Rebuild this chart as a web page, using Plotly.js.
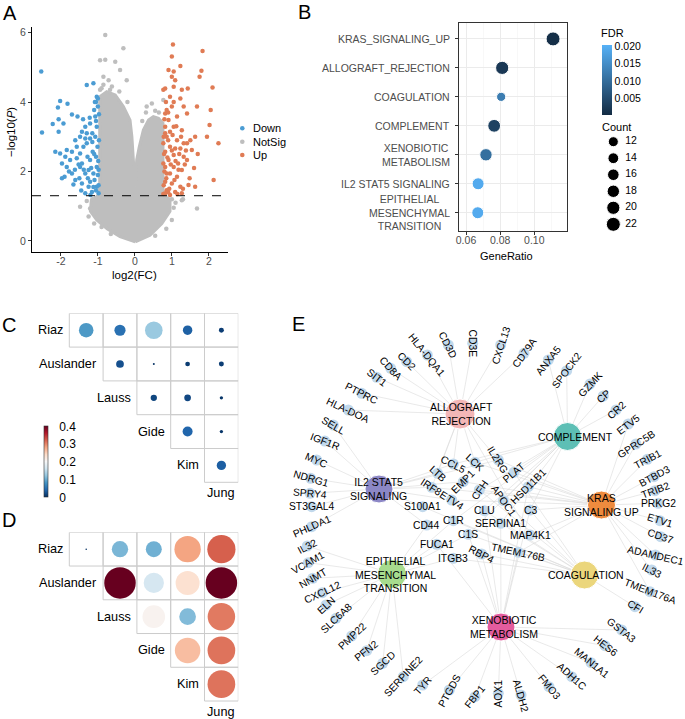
<!DOCTYPE html>
<html><head><meta charset="utf-8">
<script src="https://cdn.plot.ly/plotly-3.0.1.min.js"></script>
<style>html,body{margin:0;padding:0;background:#fff}#chart{width:685px;height:719px}</style>
</head><body><div id="chart"></div>
<script>
// ================= DATA =================
// Panel A: volcano (log2FC, -log10 P)
const volcanoDown=[[-2.53,4.88],[-2.51,3.12],[-2.02,4.03],[-2.08,3.84],[-1.82,3.95],[-2.22,3.37],[-2.06,3.50],[-1.93,3.38],[-1.70,3.64],[-1.55,3.58],[-1.30,4.49],[-1.12,4.54],[-1.03,4.15],[-2.06,3.14],[-2.15,2.57],[-2.02,2.52],[-1.88,2.42],[-1.75,2.33],[-1.97,2.23],[-1.84,2.13],[-1.97,1.80],[-1.70,1.94],[-1.61,1.75],[-1.48,2.52],[-1.48,3.00],[-1.34,2.95],[-1.21,2.95],[-1.39,2.71],[-1.28,2.42],[-1.48,2.13],[-1.34,1.94],[-1.43,1.65],[-1.25,1.56],[-1.16,1.41],[-1.09,1.75],[-1.03,2.13],[-1.05,2.42],[-1.01,2.71],[-1.07,3.00],[-1.03,3.29],[-1.07,3.58],[-1.00,3.87],[-1.21,2.33],[-1.14,2.57],[-1.57,2.38],[-1.61,2.90],[-1.34,3.29],[-1.21,3.38],[-1.10,3.77],[-1.05,4.00],[-1.25,2.04],[-1.12,1.94],[-1.03,1.56],[-0.98,1.37],[-1.34,1.37],[-1.21,1.70],[-1.43,2.23],[-1.30,2.81],[-1.84,2.62],[-1.70,2.57],[-1.57,2.71],[-1.43,3.14],[-0.97,2.90],[-0.99,2.30],[-1.00,1.90],[-0.98,1.60],[-1.15,3.10],[-1.18,2.10],[-1.10,2.50],[-1.05,3.45],[-0.97,3.65],[-1.12,1.55],[-1.27,1.80],[-1.38,2.05],[-1.52,2.20],[-1.62,2.05],[-1.78,2.00],[-1.90,1.85],[-1.66,1.62],[-1.50,1.80],[-1.45,1.45],[-1.20,1.32],[-1.05,1.45],[-0.98,2.05],[-1.15,2.85],[-1.22,3.55],[-1.30,3.10],[-1.40,3.50],[-1.00,4.10],[-1.08,4.00]];
const volcanoUp=[[1.03,5.66],[1.83,5.47],[1.00,5.31],[0.91,4.92],[1.23,5.04],[1.05,4.88],[1.80,4.90],[1.75,4.73],[1.00,4.73],[1.09,4.63],[0.82,4.39],[0.77,4.35],[1.05,4.44],[1.27,4.35],[1.43,4.39],[2.10,4.42],[1.23,4.10],[0.95,4.15],[1.68,3.87],[2.05,3.77],[0.86,3.77],[1.00,3.87],[1.32,3.87],[0.82,3.67],[1.14,3.58],[1.41,3.67],[0.91,3.48],[2.02,3.34],[0.82,3.29],[1.05,3.29],[1.27,3.19],[1.63,3.00],[1.95,3.00],[2.26,2.81],[0.86,3.00],[1.14,2.90],[1.41,2.81],[0.95,2.71],[1.23,2.66],[1.54,2.62],[0.82,2.57],[1.05,2.47],[1.32,2.42],[0.91,2.33],[1.17,2.23],[1.41,2.33],[0.82,2.13],[1.05,2.13],[1.27,2.04],[0.86,1.94],[1.14,1.85],[1.48,1.80],[2.13,1.75],[0.82,1.70],[1.00,1.65],[1.23,1.56],[1.45,1.61],[1.63,1.56],[0.86,1.46],[1.09,1.41],[0.82,1.37],[0.95,1.32],[1.27,1.37],[0.77,2.23],[0.77,2.81],[0.82,3.10],[0.95,3.14],[1.09,2.66],[0.95,1.94],[1.32,2.81],[0.78,1.60],[0.80,2.00],[0.79,2.50],[0.78,3.00],[0.80,3.50],[0.85,1.80],[0.88,2.40],[0.90,2.90],[0.93,1.50],[0.97,2.20],[1.00,2.60],[1.02,3.05],[1.07,1.75],[1.10,2.30],[1.12,3.30],[1.18,2.05],[1.20,2.50],[1.25,3.00],[1.35,2.20],[1.38,2.60],[1.30,1.50],[1.60,2.10],[1.70,2.50],[1.50,2.90],[0.84,4.00],[0.90,3.70],[1.05,4.00],[0.77,1.35],[0.90,1.40],[1.15,1.35]];
const volcanoNotSig=[[-0.80,5.93],[-0.31,5.55],[-0.94,5.20],[-0.80,5.22],[-0.53,5.16],[-0.40,4.92],[-0.85,4.73],[-0.71,4.63],[-0.22,4.63],[-0.94,4.35],[-0.67,4.35],[0.77,4.06],[0.32,3.87],[0.46,3.96],[-1.48,0.98],[-1.21,0.93],[1.68,0.93],[1.27,1.17],[-0.90,4.40],[-0.62,4.45],[-0.42,4.30],[-0.20,4.00],[-0.85,4.50],[0.30,3.70],[0.55,3.75],[0.65,3.70],[0.20,3.45],[-1.30,1.15],[-1.25,0.70],[-1.10,0.50],[1.00,0.60],[0.85,0.35],[-0.65,0.20],[0.55,0.15],[1.00,1.20],[1.10,1.10],[1.05,0.95],[-0.90,0.40],[1.30,1.20],[-1.15,1.20]];
// outline of the dense NotSig cloud
const notSigCloud=[[0.01,-0.03],[-0.4,0.12],[-0.75,0.35],[-1.03,0.6],[-1.2,0.85],[-1.18,1.15],[-1.0,1.3],[-0.95,1.5],[-0.95,4.15],[-0.76,4.3],[-0.53,4.2],[-0.31,3.87],[-0.13,3.48],[-0.08,3.0],[-0.04,2.33],[0.01,1.56],[0.05,2.33],[0.12,2.71],[0.23,3.19],[0.37,3.48],[0.50,3.58],[0.64,3.53],[0.76,3.39],[0.76,1.3],[0.95,1.2],[0.95,0.85],[0.73,0.5],[0.41,0.16],[0.01,-0.03]];
const pThreshold=1.3;
const volcanoXTicks=[-2,-1,0,1,2];
const volcanoYTicks=[0,2,4,6];
const volcanoGroups=['Down','NotSig','Up'];

// Panel B: enrichment dot plot
const pathwayLabels=['KRAS_SIGNALING_UP','ALLOGRAFT_REJECTION','COAGULATION','COMPLEMENT','XENOBIOTIC<br>METABOLISM','IL2 STAT5 SIGNALING','EPITHELIAL<br>MESENCHYMAL<br>TRANSITION'];
const geneRatio=[0.111,0.0812,0.0806,0.0765,0.0717,0.0671,0.0669];
const geneCount=[22,20,10,19,18,17,17];
const fdr=[0.0006,0.002,0.0125,0.0035,0.0105,0.0195,0.0195];
const ratioTicks=[0.06,0.08,0.10];
const countLegend=[12,14,16,18,20,22];
const fdrTicks=[0.005,0.010,0.015,0.020];

// Panels C, D: correlation upper triangles (row i vs later cohorts)
const cohorts=['Riaz','Auslander','Lauss','Gide','Kim','Jung'];
const corrC=[[0.085,0.050,0.125,0.036,0.010],[0.024,0.0016,0.009,0.010],[0.016,0.018,0.0045],[0.040,0.0045],[0.035]];
const corrD=[[0.001,0.108,0.103,0.28,0.32],[0.40,0.165,0.232,0.40],[0.207,0.112,0.305],[0.262,0.309],[0.309]];
const corrTicks=[0,0.1,0.2,0.3,0.4];

// Panel E: network
const hubNames=['ALLOGRAFT<br>REJECTION','COMPLEMENT','IL2 STAT5<br>SIGNALING','KRAS<br>SIGNALING UP','EPITHELIAL<br>MESENCHYMAL<br>TRANSITION','COAGULATION','XENOBIOTIC<br>METABOLISM'];
const hubX=[460,567.5,379,601.5,392,584.5,501];
const hubY=[414,436.5,489,505,574,575,627];
const hubMembers=[
 ['CD3D','CD3E','HLA-DQA1','CD2','CD8A','SIT1','PTPRC','HLA-DOA','CXCL13','CD79A','CCL5','LCK','LTB','IL2RG','IRF8','MAP4K1'],
 ['ANXA5','SPOCK2','GZMK','CP','CR2','CCL5','LCK','PLAT','CFH','APOC1','CLU','C3','C1R','C1S','SERPINA1'],
 ['SELL','IGF1R','MYC','NDRG1','SPRY4','ST3GAL4','PHLDA1','LTB','IL2RG','IRF8','ETV4','EMP1','S100A1','CD44','CCL5'],
 ['ETV5','GPRC5B','TRIB1','BTBD3','TRIB2','PRKG2','ETV1','CD37','ADAMDEC1','IL33','TMEM176A','TMEM176B','ETV4','EMP1','IRF8','HSD11B1','PLAT','MAP4K1','CFH','LCK','C3','IL2RG'],
 ['IL32','VCAM1','NNMT','CXCL12','ELN','SLC6A8','PMP22','PFN2','SGCD','SERPINE2','FUCA1','ITGB3','CD44','C1R','C1S'],
 ['CFI','PLAT','CFH','APOC1','CLU','C3','C1R','C1S','SERPINA1','ITGB3','RBP4','S100A1','TMEM176B'],
 ['GSTA3','HES6','MAN1A1','ADH1C','FMO3','ALDH2','AOX1','FBP1','PTGDS','TYR','C1S','SERPINA1','RBP4','HSD11B1','FUCA1','C3','CLU','TMEM176B']
];
const geneNames=['CD3D','CD3E','HLA-DQA1','CD2','CD8A','SIT1','PTPRC','HLA-DOA','SELL','IGF1R','MYC','NDRG1','SPRY4','ST3GAL4','PHLDA1','IL32','VCAM1','NNMT','CXCL12','ELN','SLC6A8','PMP22','PFN2','SGCD','SERPINE2','TYR','PTGDS','FBP1','AOX1','ALDH2','FMO3','ADH1C','MAN1A1','HES6','GSTA3','CFI','TMEM176A','IL33','ADAMDEC1','CD37','ETV1','PRKG2','TRIB2','BTBD3','TRIB1','GPRC5B','ETV5','CR2','CP','GZMK','SPOCK2','ANXA5','CD79A','CXCL13','CCL5','LCK','LTB','IL2RG','PLAT','EMP1','IRF8','ETV4','CFH','APOC1','HSD11B1','S100A1','CLU','C3','CD44','C1R','SERPINA1','MAP4K1','C1S','FUCA1','TMEM176B','RBP4','ITGB3'];
const geneX=[448.3,472.7,427.3,406.7,390.7,376.7,361.7,348.3,333.3,324.7,316.7,310.7,310,311.7,311.7,307.3,308.3,312.7,322.3,326,336,351.7,366.7,382.7,403.3,422.7,449.3,475,498.3,521,549,571.7,591,605,621.7,635,650,651.7,655.3,660.7,660,658.3,655,654,647.3,636,628.3,616,603.3,590,566.7,548.3,524,500.7,453.3,475,437.7,498.3,514,463.3,431.7,451.7,479.3,503.3,528.3,422.7,484.3,530,426.7,453.3,500.7,530,468.3,436.7,518.3,481.7,453.3];
const geneY=[345,343.3,355,361.7,368.3,377.3,393.3,410,425,441,460,478.3,493.3,506.7,526.7,546,562.7,578.3,592.7,605,618.3,636,650.7,663.3,676.7,685,690,696.7,693.3,695,686.7,676.7,662.7,645.7,630,606.7,591.7,570,555,536.7,520.7,503.3,490.7,476.7,459.3,444,424,410,396,384,370.7,360,353.3,345,464,462.3,473.3,460,472.3,481.7,487.3,500,490,500.7,486.7,506.7,510.7,510,525,520.7,523.3,535,534.3,544.3,552.3,554,558.3];

// ================= STYLE =================
const W=685,H=719;
const px=x=>x/W, py=y=>1-y/H;
const FONT='Liberation Sans, Arial, Helvetica, sans-serif';
const colDown='#4B9CD3', colUp='#E07B54', colNS='#BEBEBE';
const rdbu=[[0,'#053061'],[0.1,'#2166AC'],[0.2,'#4393C3'],[0.3,'#92C5DE'],[0.4,'#D1E5F0'],[0.5,'#F7F7F7'],[0.6,'#FDDBC7'],[0.7,'#F4A582'],[0.8,'#D6604D'],[0.9,'#B2182B'],[1,'#67001F']];
const hubColors=['#F3B7B7','#5DBFB5','#8C87C6','#EE8B3E','#A7DC8E','#EBD67C','#E35C9E'];
const hubSize=[30,28,28,28,29,28,28];
const hubLabelDx=[1,8,-1,0,3,1,3];
const geneAngle=[63,90,51,45,47,37,27,25,30,21,23,16,5,0,-24,-28,-29,-30,-25,-42,-43,-43,-38,-43,-47,-48,-61,-51,-90,74,51,42,39,38,38,31,21,27,13,19,17,0,-21,-28,-28,-33,-38,-42,-41,-47,-53,-52,-54,-72,27,42,42,58,-40,-45,33,33,-55,55,-45,0,0,0,0,0,0,0,0,0,12,27,0];
const countSize=c=>10+(c-12)*0.4;
const DMAX=31.5;
const corrSize=v=>Math.max(1.5,DMAX*Math.sqrt(Math.abs(v)/0.4));

const traces=[], annotations=[], shapes=[];
const ptext=(t,x,y,o)=>Object.assign({xref:'paper',yref:'paper',x:px(x),y:py(y),xanchor:'center',yanchor:'middle',text:t,showarrow:false,font:{size:11,color:'#000'}},o||{});

// ---------- Panel A ----------
const xs=a=>a.map(p=>p[0]), ys=a=>a.map(p=>p[1]);
traces.push({type:'scatter',mode:'lines',x:xs(notSigCloud),y:ys(notSigCloud),fill:'toself',fillcolor:colNS,line:{color:colNS,width:3},hoverinfo:'skip',xaxis:'x',yaxis:'y'});
traces.push({type:'scatter',mode:'markers',x:xs(volcanoNotSig),y:ys(volcanoNotSig),marker:{color:colNS,size:4.5,opacity:1},xaxis:'x',yaxis:'y'});
traces.push({type:'scatter',mode:'markers',x:xs(volcanoDown),y:ys(volcanoDown),marker:{color:colDown,size:4.5,opacity:1},xaxis:'x',yaxis:'y'});
traces.push({type:'scatter',mode:'markers',x:xs(volcanoUp),y:ys(volcanoUp),marker:{color:colUp,size:4.5,opacity:1},xaxis:'x',yaxis:'y'});
shapes.push({type:'line',xref:'x domain',yref:'y',x0:0,x1:1,y0:pThreshold,y1:pThreshold,line:{color:'#000',width:1,dash:'dash'}});
const legCols=[colDown,colNS,colUp], legY=[128.3,141.7,155];
volcanoGroups.forEach((g,i)=>{
  shapes.push({type:'circle',xref:'paper',yref:'paper',x0:px(240),x1:px(244.6),y0:py(legY[i]+2.3),y1:py(legY[i]-2.3),fillcolor:legCols[i],line:{width:0}});
  annotations.push(ptext(g,251,legY[i],{xanchor:'left'}));
});
annotations.push(ptext('log2(FC)',134.7,275,{font:{size:11.5,color:'#000'}}));
annotations.push(ptext('−log10(<i>P</i>)',11,132,{textangle:-90,font:{size:11.5,color:'#000'}}));

// ---------- Panel B ----------
const idx=pathwayLabels.map((_,i)=>i);
traces.push({type:'scatter',mode:'markers',x:geneRatio,y:idx,xaxis:'x2',yaxis:'y2',
  marker:{size:geneCount.map(countSize),opacity:1,color:fdr,cmin:0,cmax:0.0205,colorscale:[[0,'#132B43'],[1,'#56B1F7']],showscale:true,
    colorbar:{x:px(601.7),xanchor:'left',y:py(80),yanchor:'middle',len:70,lenmode:'pixels',thickness:10,outlinewidth:0,
      tickvals:fdrTicks,ticktext:fdrTicks.map(v=>v.toFixed(3)),ticks:'',tickfont:{size:10.5,color:'#000'},xpad:0,ypad:0}}});
pathwayLabels.forEach((t,i)=>annotations.push({xref:'paper',yref:'y2',x:px(452),y:i,xanchor:'right',yanchor:'middle',align:'center',text:t,showarrow:false,font:{size:10.5,color:'#4D4D4D'}}));
annotations.push(ptext('GeneRatio',506.7,256));
annotations.push(ptext('FDR',598.5,33,{xanchor:'left'}));
// count legend
traces.push({type:'scatter',mode:'markers',x:countLegend.map(()=>0),y:countLegend,xaxis:'x3',yaxis:'y3',marker:{color:'#000',opacity:1,size:countLegend.map(countSize)}});
traces.push({type:'scatter',mode:'text',x:countLegend.map(()=>3.2),y:countLegend,text:countLegend.map(String),textposition:'middle right',textfont:{size:10.5,color:'#000'},xaxis:'x3',yaxis:'y3'});
annotations.push(ptext('Count',599.5,127.3,{xanchor:'left'}));

// ---------- Panels C & D ----------
function corrPanel(mat,xa,ya,showScale){
  const x=[],y=[],v=[];
  mat.forEach((row,i)=>row.forEach((val,k)=>{const j=i+1+k;x.push(j);y.push(i);v.push(val);
    shapes.push({type:'rect',xref:xa,yref:ya,x0:j-0.5,x1:j+0.5,y0:i-0.5,y1:i+0.5,line:{color:'#CCCCCC',width:1},layer:'below'});}));
  const tr={type:'scatter',mode:'markers',x:x,y:y,xaxis:xa,yaxis:ya,
    marker:{size:v.map(corrSize),opacity:1,color:v,cmin:0,cmax:0.4,colorscale:rdbu,showscale:showScale,line:{width:0}}};
  if(showScale){tr.marker.colorbar={x:px(44),xanchor:'left',y:py(461.8),yanchor:'middle',len:71,lenmode:'pixels',thickness:4,
    outlinewidth:0.6,outlinecolor:'#333',tickvals:corrTicks,ticktext:corrTicks.map(String),ticks:'outside',ticklen:9,tickcolor:'rgba(0,0,0,0)',
    tickfont:{size:12,color:'#000'},xpad:0,ypad:0};}
  traces.push(tr);
  cohorts.slice(0,5).forEach((c,i)=>annotations.push({xref:xa,yref:ya,x:i+0.5,y:i,xanchor:'right',yanchor:'middle',xshift:-4,text:c,showarrow:false,font:{size:12.7,color:'#000'}}));
  annotations.push({xref:xa,yref:ya,x:5,y:4.83,xanchor:'center',yanchor:'middle',text:cohorts[5],showarrow:false,font:{size:12.7,color:'#000'}});
}
corrPanel(corrC,'x4','y4',true);
corrPanel(corrD,'x5','y5',false);

// ---------- Panel E ----------
const gIdx={}; geneNames.forEach((g,i)=>gIdx[g]=i);
const ex=[],ey=[];
hubMembers.forEach((m,h)=>m.forEach(g=>{const i=gIdx[g];ex.push(hubX[h],geneX[i],null);ey.push(hubY[h],geneY[i],null);}));
traces.push({type:'scatter',mode:'lines',x:ex,y:ey,line:{color:'#DADADA',width:0.6},xaxis:'x6',yaxis:'y6',hoverinfo:'skip'});
traces.push({type:'scatter',mode:'markers',x:geneX,y:geneY,marker:{color:'#C2D9EC',size:11,opacity:1},xaxis:'x6',yaxis:'y6'});
traces.push({type:'scatter',mode:'markers',x:hubX,y:hubY,marker:{color:hubColors,size:hubSize,opacity:1},xaxis:'x6',yaxis:'y6'});
geneNames.forEach((g,i)=>annotations.push({xref:'x6',yref:'y6',x:geneX[i],y:geneY[i],xanchor:'center',yanchor:'middle',text:g,textangle:geneAngle[i],showarrow:false,font:{size:10.3,color:'#000'}}));
hubNames.forEach((t,i)=>annotations.push({xref:'x6',yref:'y6',x:hubX[i]+hubLabelDx[i],y:hubY[i],xanchor:'center',yanchor:'middle',text:t,align:'center',showarrow:false,font:{size:10.5,color:'#000'}}));

// panel letters
[['A',9.5,12.5],['B',304,12],['C',8.5,325],['D',8.5,519.5],['E',298.5,323.5]].forEach(p=>annotations.push(ptext(p[0],p[1],p[2],{font:{size:20,color:'#000'}})));

const hidden=(d,r)=>({domain:d,range:r,visible:false,fixedrange:true});
const layout={
  width:W,height:H,margin:{l:0,r:0,t:0,b:0},paper_bgcolor:'#fff',plot_bgcolor:'rgba(0,0,0,0)',showlegend:false,
  font:{family:FONT,color:'#000'},
  xaxis:{domain:[px(32),px(227.7)],range:[-2.78,2.51],anchor:'y',tickvals:volcanoXTicks,ticktext:volcanoXTicks.map(String),showline:true,linecolor:'#000',linewidth:1,ticks:'outside',ticklen:3,tickcolor:'#333',ticklabelstandoff:-4,tickfont:{size:10.5,color:'#4D4D4D'},showgrid:false,zeroline:false},
  yaxis:{domain:[py(252.3),py(26.7)],range:[-0.33,6.17],anchor:'x',tickvals:volcanoYTicks,ticktext:volcanoYTicks.map(String),showline:true,linecolor:'#000',linewidth:1,ticks:'outside',ticklen:3,tickcolor:'#333',tickfont:{size:10.5,color:'#4D4D4D'},showgrid:false,zeroline:false},
  xaxis2:{domain:[px(459),px(566.7)],range:[0.0559,0.119],anchor:'y2',tickvals:ratioTicks,ticktext:ratioTicks.map(v=>v.toFixed(2)),showline:true,mirror:true,linecolor:'#333',linewidth:1,ticks:'outside',ticklen:3,tickcolor:'#333',ticklabelstandoff:-3,tickfont:{size:10.5,color:'#4D4D4D'},showgrid:true,gridcolor:'#EBEBEB',gridwidth:1,zeroline:false,
    minor:{tickvals:[0.07,0.09,0.11],showgrid:true,gridcolor:'#F3F3F3',gridwidth:0.6,ticks:''}},
  yaxis2:{domain:[py(230.7),py(22.7)],range:[6.62,-0.56],anchor:'x2',tickvals:idx,showticklabels:false,showline:true,mirror:true,linecolor:'#333',linewidth:1,ticks:'outside',ticklen:3,tickcolor:'#333',showgrid:true,gridcolor:'#EBEBEB',gridwidth:1,zeroline:false},
  xaxis3:Object.assign(hidden([px(600),px(650)],[-3.6,9.9]),{anchor:'y3'}),
  yaxis3:Object.assign(hidden([py(232),py(135)],[22.93,11.19]),{anchor:'x3'}),
  xaxis4:Object.assign(hidden([px(35.5),px(238.3)],[-0.5,5.5]),{anchor:'y4'}),
  yaxis4:Object.assign(hidden([py(516.1),py(313.3)],[5.5,-0.5]),{anchor:'x4'}),
  xaxis5:Object.assign(hidden([px(35.5),px(238.3)],[-0.5,5.5]),{anchor:'y5'}),
  yaxis5:Object.assign(hidden([0,py(532.3)],[5.033,-0.5]),{anchor:'x5'}),
  xaxis6:Object.assign(hidden([px(290),1],[290,685]),{anchor:'y6'}),
  yaxis6:Object.assign(hidden([0,py(300)],[719,300]),{anchor:'x6'}),
  annotations:annotations,shapes:shapes
};
Plotly.newPlot('chart',traces,layout,{displayModeBar:false,staticPlot:true});
</script></body></html>
